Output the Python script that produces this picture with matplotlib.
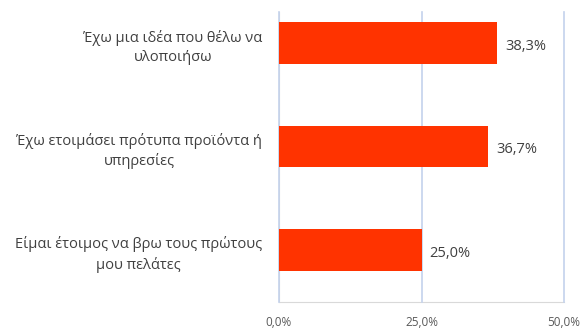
import matplotlib
matplotlib.use("Agg")
import matplotlib.pyplot as plt

categories = ["Έχω μια ιδέα που θέλω να\nυλοποιήσω",
              "Έχω ετοιμάσει πρότυπα προϊόντα ή\nυπηρεσίες",
              "Είμαι έτοιμος να βρω τους πρώτους\nμου πελάτες"]
values = [38.3, 36.7, 25.0]
xticks = [0, 25, 50]
xtick_labels = ["0,0%", "25,0%", "50,0%"]

plt.rcParams['font.family'] = ['Open Sans', 'DejaVu Sans']

fig = plt.figure(figsize=(5.85, 3.29), dpi=100)
ax = fig.add_axes([279/585, 1-302/329, 285/585, 290/329])

ypos = list(range(len(categories)))
ax.barh(ypos, values, height=0.4, color="#FF3300", zorder=3)
for y, v in zip(ypos, values):
    ax.text(v + 1.4, y + 0.03, f"{v:.1f}%".replace(".", ","), va="center", ha="left",
            fontsize=10.5, color="#404040")

ax.set_xlim(0, 50)
ax.set_ylim(2.5, -0.3)
ax.set_yticks(ypos)
ax.set_yticklabels(categories, fontsize=10.5, color="#404040",
                   multialignment="center", linespacing=1.4)
ax.tick_params(axis="y", length=0, pad=12)
ax.set_xticks(xticks)
ax.set_xticklabels(xtick_labels, fontsize=8.5, color="#595959")
ax.tick_params(axis="x", length=0, pad=10)
ax.grid(axis="x", color="#C4D2EC", linewidth=1.2, zorder=0)
for gl in ax.get_xgridlines():
    gl.set_clip_on(False)
for s in ["top", "right"]:
    ax.spines[s].set_visible(False)
for s in ["left", "bottom"]:
    ax.spines[s].set_color("#D9D9D9")
    ax.spines[s].set_zorder(1)

fig.savefig("out.png", dpi=100)
